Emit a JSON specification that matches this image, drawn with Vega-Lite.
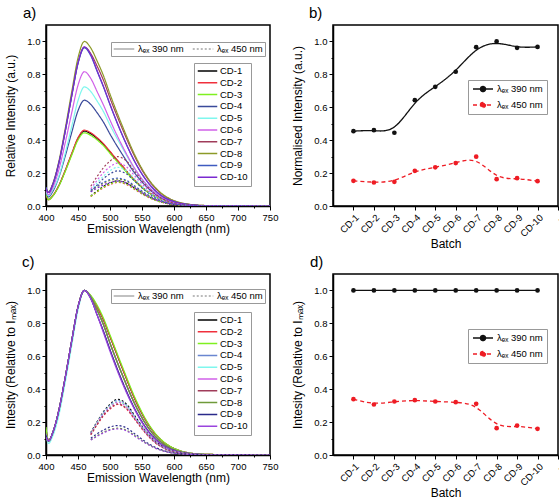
{
"$schema": "https://vega.github.io/schema/vega-lite/v6.json",
"padding": {"left": 4, "top": 5, "right": 0, "bottom": 0},
"spacing": 4,
"config": {
  "font": "Liberation Sans",
  "background": "white",
  "view": {"stroke": "black", "strokeWidth": 1.5},
  "axis": {"grid": false, "domainColor": "black", "domainWidth": 1.5, "tickColor": "black", "tickWidth": 1, "tickSize": 4, "labelFont": "Liberation Sans", "labelFontSize": 9.5, "labelColor": "black", "labelPadding": 2, "labelFlush": false, "labelOverlap": false, "titleFont": "Liberation Sans", "titleFontSize": 12, "titleFontWeight": "normal", "titleColor": "black"},
  "axisY": {"titlePadding": 9},
  "axisX": {"titlePadding": 2},
  "legend": {"labelFont": "Liberation Sans", "labelFontSize": 9.5, "labelColor": "black", "strokeColor": "#999", "fillColor": "white", "orient": "none"},
  "title": {"font": "Liberation Sans", "fontSize": 15, "fontWeight": "normal", "anchor": "start", "frame": "group", "offset": 4, "color": "black"}
},
"resolve": {"scale": {"color": "independent", "strokeDash": "independent"}, "legend": {"color": "independent", "strokeDash": "independent"}},
"datasets": {
"a390": [
{"s":"CD-1","x":400,"y":0.073},{"s":"CD-1","x":404,"y":0.039},{"s":"CD-1","x":410,"y":0.059},{"s":"CD-1","x":420,"y":0.123},{"s":"CD-1","x":430,"y":0.214},{"s":"CD-1","x":440,"y":0.314},{"s":"CD-1","x":450,"y":0.41},{"s":"CD-1","x":460,"y":0.455},{"s":"CD-1","x":470,"y":0.439},{"s":"CD-1","x":480,"y":0.41},{"s":"CD-1","x":490,"y":0.373},{"s":"CD-1","x":500,"y":0.328},{"s":"CD-1","x":520,"y":0.237},{"s":"CD-1","x":540,"y":0.15},{"s":"CD-1","x":560,"y":0.084},{"s":"CD-1","x":580,"y":0.041},{"s":"CD-1","x":600,"y":0.018},{"s":"CD-1","x":625,"y":0.005},{"s":"CD-1","x":650,"y":0.002},{"s":"CD-1","x":750,"y":0},
{"s":"CD-2","x":400,"y":0.069},{"s":"CD-2","x":404,"y":0.039},{"s":"CD-2","x":410,"y":0.06},{"s":"CD-2","x":420,"y":0.124},{"s":"CD-2","x":430,"y":0.217},{"s":"CD-2","x":440,"y":0.318},{"s":"CD-2","x":450,"y":0.415},{"s":"CD-2","x":460,"y":0.461},{"s":"CD-2","x":470,"y":0.445},{"s":"CD-2","x":480,"y":0.415},{"s":"CD-2","x":490,"y":0.378},{"s":"CD-2","x":500,"y":0.332},{"s":"CD-2","x":520,"y":0.24},{"s":"CD-2","x":540,"y":0.152},{"s":"CD-2","x":560,"y":0.085},{"s":"CD-2","x":580,"y":0.041},{"s":"CD-2","x":600,"y":0.018},{"s":"CD-2","x":625,"y":0.006},{"s":"CD-2","x":650,"y":0.002},{"s":"CD-2","x":750,"y":0},
{"s":"CD-3","x":400,"y":0.076},{"s":"CD-3","x":404,"y":0.038},{"s":"CD-3","x":410,"y":0.058},{"s":"CD-3","x":420,"y":0.12},{"s":"CD-3","x":430,"y":0.209},{"s":"CD-3","x":440,"y":0.307},{"s":"CD-3","x":450,"y":0.401},{"s":"CD-3","x":460,"y":0.445},{"s":"CD-3","x":470,"y":0.429},{"s":"CD-3","x":480,"y":0.401},{"s":"CD-3","x":490,"y":0.365},{"s":"CD-3","x":500,"y":0.32},{"s":"CD-3","x":520,"y":0.231},{"s":"CD-3","x":540,"y":0.147},{"s":"CD-3","x":560,"y":0.082},{"s":"CD-3","x":580,"y":0.04},{"s":"CD-3","x":600,"y":0.018},{"s":"CD-3","x":625,"y":0.005},{"s":"CD-3","x":650,"y":0.002},{"s":"CD-3","x":750,"y":0},
{"s":"CD-4","x":400,"y":0.084},{"s":"CD-4","x":404,"y":0.055},{"s":"CD-4","x":410,"y":0.084},{"s":"CD-4","x":420,"y":0.174},{"s":"CD-4","x":430,"y":0.302},{"s":"CD-4","x":440,"y":0.444},{"s":"CD-4","x":450,"y":0.579},{"s":"CD-4","x":460,"y":0.643},{"s":"CD-4","x":470,"y":0.617},{"s":"CD-4","x":480,"y":0.566},{"s":"CD-4","x":490,"y":0.508},{"s":"CD-4","x":500,"y":0.437},{"s":"CD-4","x":520,"y":0.309},{"s":"CD-4","x":540,"y":0.193},{"s":"CD-4","x":560,"y":0.106},{"s":"CD-4","x":580,"y":0.05},{"s":"CD-4","x":600,"y":0.021},{"s":"CD-4","x":625,"y":0.006},{"s":"CD-4","x":650,"y":0.002},{"s":"CD-4","x":750,"y":0},
{"s":"CD-5","x":400,"y":0.087},{"s":"CD-5","x":404,"y":0.062},{"s":"CD-5","x":410,"y":0.094},{"s":"CD-5","x":420,"y":0.18},{"s":"CD-5","x":430,"y":0.32},{"s":"CD-5","x":440,"y":0.48},{"s":"CD-5","x":450,"y":0.64},{"s":"CD-5","x":460,"y":0.724},{"s":"CD-5","x":470,"y":0.695},{"s":"CD-5","x":480,"y":0.637},{"s":"CD-5","x":490,"y":0.572},{"s":"CD-5","x":500,"y":0.492},{"s":"CD-5","x":520,"y":0.348},{"s":"CD-5","x":540,"y":0.217},{"s":"CD-5","x":560,"y":0.119},{"s":"CD-5","x":580,"y":0.056},{"s":"CD-5","x":600,"y":0.024},{"s":"CD-5","x":625,"y":0.007},{"s":"CD-5","x":650,"y":0.002},{"s":"CD-5","x":750,"y":0},
{"s":"CD-6","x":400,"y":0.098},{"s":"CD-6","x":404,"y":0.069},{"s":"CD-6","x":410,"y":0.106},{"s":"CD-6","x":420,"y":0.22},{"s":"CD-6","x":430,"y":0.384},{"s":"CD-6","x":440,"y":0.563},{"s":"CD-6","x":450,"y":0.734},{"s":"CD-6","x":460,"y":0.816},{"s":"CD-6","x":470,"y":0.775},{"s":"CD-6","x":480,"y":0.694},{"s":"CD-6","x":490,"y":0.612},{"s":"CD-6","x":500,"y":0.522},{"s":"CD-6","x":520,"y":0.359},{"s":"CD-6","x":540,"y":0.22},{"s":"CD-6","x":560,"y":0.118},{"s":"CD-6","x":580,"y":0.054},{"s":"CD-6","x":600,"y":0.023},{"s":"CD-6","x":625,"y":0.007},{"s":"CD-6","x":650,"y":0.002},{"s":"CD-6","x":750,"y":0},
{"s":"CD-7","x":400,"y":0.106},{"s":"CD-7","x":404,"y":0.082},{"s":"CD-7","x":410,"y":0.125},{"s":"CD-7","x":420,"y":0.261},{"s":"CD-7","x":430,"y":0.454},{"s":"CD-7","x":440,"y":0.666},{"s":"CD-7","x":450,"y":0.869},{"s":"CD-7","x":460,"y":0.965},{"s":"CD-7","x":470,"y":0.926},{"s":"CD-7","x":480,"y":0.849},{"s":"CD-7","x":490,"y":0.762},{"s":"CD-7","x":500,"y":0.656},{"s":"CD-7","x":520,"y":0.463},{"s":"CD-7","x":540,"y":0.29},{"s":"CD-7","x":560,"y":0.159},{"s":"CD-7","x":580,"y":0.075},{"s":"CD-7","x":600,"y":0.032},{"s":"CD-7","x":625,"y":0.01},{"s":"CD-7","x":650,"y":0.003},{"s":"CD-7","x":750,"y":0},
{"s":"CD-8","x":400,"y":0.11},{"s":"CD-8","x":404,"y":0.085},{"s":"CD-8","x":410,"y":0.13},{"s":"CD-8","x":420,"y":0.27},{"s":"CD-8","x":430,"y":0.47},{"s":"CD-8","x":440,"y":0.69},{"s":"CD-8","x":450,"y":0.9},{"s":"CD-8","x":460,"y":1.0},{"s":"CD-8","x":470,"y":0.96},{"s":"CD-8","x":480,"y":0.88},{"s":"CD-8","x":490,"y":0.79},{"s":"CD-8","x":500,"y":0.68},{"s":"CD-8","x":520,"y":0.48},{"s":"CD-8","x":540,"y":0.3},{"s":"CD-8","x":560,"y":0.165},{"s":"CD-8","x":580,"y":0.078},{"s":"CD-8","x":600,"y":0.033},{"s":"CD-8","x":625,"y":0.01},{"s":"CD-8","x":650,"y":0.003},{"s":"CD-8","x":750,"y":0},
{"s":"CD-9","x":400,"y":0.115},{"s":"CD-9","x":404,"y":0.082},{"s":"CD-9","x":410,"y":0.125},{"s":"CD-9","x":420,"y":0.259},{"s":"CD-9","x":430,"y":0.452},{"s":"CD-9","x":440,"y":0.663},{"s":"CD-9","x":450,"y":0.865},{"s":"CD-9","x":460,"y":0.961},{"s":"CD-9","x":470,"y":0.913},{"s":"CD-9","x":480,"y":0.817},{"s":"CD-9","x":490,"y":0.721},{"s":"CD-9","x":500,"y":0.615},{"s":"CD-9","x":520,"y":0.423},{"s":"CD-9","x":540,"y":0.259},{"s":"CD-9","x":560,"y":0.139},{"s":"CD-9","x":580,"y":0.063},{"s":"CD-9","x":600,"y":0.027},{"s":"CD-9","x":625,"y":0.008},{"s":"CD-9","x":650,"y":0.002},{"s":"CD-9","x":750,"y":0},
{"s":"CD-10","x":400,"y":0.106},{"s":"CD-10","x":404,"y":0.082},{"s":"CD-10","x":410,"y":0.126},{"s":"CD-10","x":420,"y":0.261},{"s":"CD-10","x":430,"y":0.454},{"s":"CD-10","x":440,"y":0.667},{"s":"CD-10","x":450,"y":0.87},{"s":"CD-10","x":460,"y":0.967},{"s":"CD-10","x":470,"y":0.919},{"s":"CD-10","x":480,"y":0.822},{"s":"CD-10","x":490,"y":0.725},{"s":"CD-10","x":500,"y":0.619},{"s":"CD-10","x":520,"y":0.425},{"s":"CD-10","x":540,"y":0.261},{"s":"CD-10","x":560,"y":0.14},{"s":"CD-10","x":580,"y":0.064},{"s":"CD-10","x":600,"y":0.027},{"s":"CD-10","x":625,"y":0.008},{"s":"CD-10","x":650,"y":0.002},{"s":"CD-10","x":750,"y":0}
],
"a450": [
{"s":"CD-1","x":470,"y":0.061},{"s":"CD-1","x":480,"y":0.092},{"s":"CD-1","x":490,"y":0.119},{"s":"CD-1","x":500,"y":0.139},{"s":"CD-1","x":512,"y":0.153},{"s":"CD-1","x":525,"y":0.141},{"s":"CD-1","x":540,"y":0.104},{"s":"CD-1","x":555,"y":0.067},{"s":"CD-1","x":570,"y":0.038},{"s":"CD-1","x":590,"y":0.015},{"s":"CD-1","x":610,"y":0.006},{"s":"CD-1","x":630,"y":0.002},{"s":"CD-1","x":650,"y":0.001},{"s":"CD-1","x":750,"y":0},
{"s":"CD-2","x":470,"y":0.057},{"s":"CD-2","x":480,"y":0.086},{"s":"CD-2","x":490,"y":0.112},{"s":"CD-2","x":500,"y":0.13},{"s":"CD-2","x":512,"y":0.143},{"s":"CD-2","x":525,"y":0.132},{"s":"CD-2","x":540,"y":0.097},{"s":"CD-2","x":555,"y":0.063},{"s":"CD-2","x":570,"y":0.036},{"s":"CD-2","x":590,"y":0.014},{"s":"CD-2","x":610,"y":0.006},{"s":"CD-2","x":630,"y":0.002},{"s":"CD-2","x":650,"y":0.001},{"s":"CD-2","x":750,"y":0},
{"s":"CD-3","x":470,"y":0.059},{"s":"CD-3","x":480,"y":0.088},{"s":"CD-3","x":490,"y":0.115},{"s":"CD-3","x":500,"y":0.134},{"s":"CD-3","x":512,"y":0.147},{"s":"CD-3","x":525,"y":0.135},{"s":"CD-3","x":540,"y":0.1},{"s":"CD-3","x":555,"y":0.065},{"s":"CD-3","x":570,"y":0.037},{"s":"CD-3","x":590,"y":0.015},{"s":"CD-3","x":610,"y":0.006},{"s":"CD-3","x":630,"y":0.002},{"s":"CD-3","x":650,"y":0.001},{"s":"CD-3","x":750,"y":0},
{"s":"CD-4","x":470,"y":0.086},{"s":"CD-4","x":480,"y":0.128},{"s":"CD-4","x":490,"y":0.167},{"s":"CD-4","x":500,"y":0.195},{"s":"CD-4","x":512,"y":0.214},{"s":"CD-4","x":525,"y":0.197},{"s":"CD-4","x":540,"y":0.146},{"s":"CD-4","x":555,"y":0.094},{"s":"CD-4","x":570,"y":0.054},{"s":"CD-4","x":590,"y":0.021},{"s":"CD-4","x":610,"y":0.009},{"s":"CD-4","x":630,"y":0.003},{"s":"CD-4","x":650,"y":0.001},{"s":"CD-4","x":750,"y":0},
{"s":"CD-5","x":470,"y":0.094},{"s":"CD-5","x":480,"y":0.141},{"s":"CD-5","x":490,"y":0.183},{"s":"CD-5","x":500,"y":0.214},{"s":"CD-5","x":512,"y":0.235},{"s":"CD-5","x":525,"y":0.216},{"s":"CD-5","x":540,"y":0.16},{"s":"CD-5","x":555,"y":0.103},{"s":"CD-5","x":570,"y":0.059},{"s":"CD-5","x":590,"y":0.024},{"s":"CD-5","x":610,"y":0.009},{"s":"CD-5","x":630,"y":0.003},{"s":"CD-5","x":650,"y":0.001},{"s":"CD-5","x":750,"y":0},
{"s":"CD-6","x":470,"y":0.104},{"s":"CD-6","x":480,"y":0.157},{"s":"CD-6","x":490,"y":0.204},{"s":"CD-6","x":500,"y":0.238},{"s":"CD-6","x":512,"y":0.261},{"s":"CD-6","x":525,"y":0.24},{"s":"CD-6","x":540,"y":0.177},{"s":"CD-6","x":555,"y":0.115},{"s":"CD-6","x":570,"y":0.065},{"s":"CD-6","x":590,"y":0.026},{"s":"CD-6","x":610,"y":0.01},{"s":"CD-6","x":630,"y":0.003},{"s":"CD-6","x":650,"y":0.001},{"s":"CD-6","x":750,"y":0},
{"s":"CD-7","x":470,"y":0.12},{"s":"CD-7","x":480,"y":0.18},{"s":"CD-7","x":490,"y":0.234},{"s":"CD-7","x":500,"y":0.273},{"s":"CD-7","x":512,"y":0.3},{"s":"CD-7","x":525,"y":0.276},{"s":"CD-7","x":540,"y":0.204},{"s":"CD-7","x":555,"y":0.132},{"s":"CD-7","x":570,"y":0.075},{"s":"CD-7","x":590,"y":0.03},{"s":"CD-7","x":610,"y":0.012},{"s":"CD-7","x":630,"y":0.004},{"s":"CD-7","x":650,"y":0.001},{"s":"CD-7","x":750,"y":0},
{"s":"CD-8","x":470,"y":0.093},{"s":"CD-8","x":480,"y":0.117},{"s":"CD-8","x":490,"y":0.139},{"s":"CD-8","x":500,"y":0.155},{"s":"CD-8","x":512,"y":0.163},{"s":"CD-8","x":525,"y":0.152},{"s":"CD-8","x":540,"y":0.114},{"s":"CD-8","x":555,"y":0.075},{"s":"CD-8","x":570,"y":0.044},{"s":"CD-8","x":590,"y":0.018},{"s":"CD-8","x":610,"y":0.007},{"s":"CD-8","x":630,"y":0.002},{"s":"CD-8","x":650,"y":0.001},{"s":"CD-8","x":750,"y":0},
{"s":"CD-9","x":470,"y":0.096},{"s":"CD-9","x":480,"y":0.122},{"s":"CD-9","x":490,"y":0.144},{"s":"CD-9","x":500,"y":0.161},{"s":"CD-9","x":512,"y":0.169},{"s":"CD-9","x":525,"y":0.157},{"s":"CD-9","x":540,"y":0.118},{"s":"CD-9","x":555,"y":0.078},{"s":"CD-9","x":570,"y":0.046},{"s":"CD-9","x":590,"y":0.019},{"s":"CD-9","x":610,"y":0.008},{"s":"CD-9","x":630,"y":0.003},{"s":"CD-9","x":650,"y":0.001},{"s":"CD-9","x":750,"y":0},
{"s":"CD-10","x":470,"y":0.086},{"s":"CD-10","x":480,"y":0.109},{"s":"CD-10","x":490,"y":0.128},{"s":"CD-10","x":500,"y":0.143},{"s":"CD-10","x":512,"y":0.151},{"s":"CD-10","x":525,"y":0.14},{"s":"CD-10","x":540,"y":0.106},{"s":"CD-10","x":555,"y":0.069},{"s":"CD-10","x":570,"y":0.041},{"s":"CD-10","x":590,"y":0.017},{"s":"CD-10","x":610,"y":0.007},{"s":"CD-10","x":630,"y":0.002},{"s":"CD-10","x":650,"y":0.001},{"s":"CD-10","x":750,"y":0}
],
"c390": [
{"s":"CD-1","x":400,"y":0.16},{"s":"CD-1","x":404,"y":0.085},{"s":"CD-1","x":410,"y":0.13},{"s":"CD-1","x":420,"y":0.27},{"s":"CD-1","x":430,"y":0.47},{"s":"CD-1","x":440,"y":0.69},{"s":"CD-1","x":450,"y":0.9},{"s":"CD-1","x":460,"y":1.0},{"s":"CD-1","x":470,"y":0.965},{"s":"CD-1","x":480,"y":0.9},{"s":"CD-1","x":490,"y":0.82},{"s":"CD-1","x":500,"y":0.72},{"s":"CD-1","x":520,"y":0.52},{"s":"CD-1","x":540,"y":0.33},{"s":"CD-1","x":560,"y":0.185},{"s":"CD-1","x":580,"y":0.09},{"s":"CD-1","x":600,"y":0.04},{"s":"CD-1","x":625,"y":0.012},{"s":"CD-1","x":650,"y":0.004},{"s":"CD-1","x":750,"y":0},
{"s":"CD-2","x":400,"y":0.15},{"s":"CD-2","x":404,"y":0.09},{"s":"CD-2","x":410,"y":0.13},{"s":"CD-2","x":420,"y":0.27},{"s":"CD-2","x":430,"y":0.47},{"s":"CD-2","x":440,"y":0.69},{"s":"CD-2","x":450,"y":0.9},{"s":"CD-2","x":460,"y":1.0},{"s":"CD-2","x":470,"y":0.965},{"s":"CD-2","x":480,"y":0.9},{"s":"CD-2","x":490,"y":0.82},{"s":"CD-2","x":500,"y":0.72},{"s":"CD-2","x":520,"y":0.52},{"s":"CD-2","x":540,"y":0.33},{"s":"CD-2","x":560,"y":0.185},{"s":"CD-2","x":580,"y":0.09},{"s":"CD-2","x":600,"y":0.04},{"s":"CD-2","x":625,"y":0.012},{"s":"CD-2","x":650,"y":0.004},{"s":"CD-2","x":750,"y":0},
{"s":"CD-3","x":400,"y":0.17},{"s":"CD-3","x":404,"y":0.085},{"s":"CD-3","x":410,"y":0.13},{"s":"CD-3","x":420,"y":0.27},{"s":"CD-3","x":430,"y":0.47},{"s":"CD-3","x":440,"y":0.69},{"s":"CD-3","x":450,"y":0.9},{"s":"CD-3","x":460,"y":1.0},{"s":"CD-3","x":470,"y":0.97},{"s":"CD-3","x":480,"y":0.91},{"s":"CD-3","x":490,"y":0.83},{"s":"CD-3","x":500,"y":0.73},{"s":"CD-3","x":520,"y":0.53},{"s":"CD-3","x":540,"y":0.34},{"s":"CD-3","x":560,"y":0.19},{"s":"CD-3","x":580,"y":0.093},{"s":"CD-3","x":600,"y":0.041},{"s":"CD-3","x":625,"y":0.012},{"s":"CD-3","x":650,"y":0.004},{"s":"CD-3","x":750,"y":0},
{"s":"CD-4","x":400,"y":0.13},{"s":"CD-4","x":404,"y":0.085},{"s":"CD-4","x":410,"y":0.13},{"s":"CD-4","x":420,"y":0.27},{"s":"CD-4","x":430,"y":0.47},{"s":"CD-4","x":440,"y":0.69},{"s":"CD-4","x":450,"y":0.9},{"s":"CD-4","x":460,"y":1.0},{"s":"CD-4","x":470,"y":0.96},{"s":"CD-4","x":480,"y":0.88},{"s":"CD-4","x":490,"y":0.79},{"s":"CD-4","x":500,"y":0.68},{"s":"CD-4","x":520,"y":0.48},{"s":"CD-4","x":540,"y":0.3},{"s":"CD-4","x":560,"y":0.165},{"s":"CD-4","x":580,"y":0.078},{"s":"CD-4","x":600,"y":0.033},{"s":"CD-4","x":625,"y":0.01},{"s":"CD-4","x":650,"y":0.003},{"s":"CD-4","x":750,"y":0},
{"s":"CD-5","x":400,"y":0.12},{"s":"CD-5","x":404,"y":0.07},{"s":"CD-5","x":410,"y":0.11},{"s":"CD-5","x":420,"y":0.24},{"s":"CD-5","x":430,"y":0.44},{"s":"CD-5","x":440,"y":0.66},{"s":"CD-5","x":450,"y":0.88},{"s":"CD-5","x":460,"y":1.0},{"s":"CD-5","x":470,"y":0.96},{"s":"CD-5","x":480,"y":0.88},{"s":"CD-5","x":490,"y":0.79},{"s":"CD-5","x":500,"y":0.68},{"s":"CD-5","x":520,"y":0.48},{"s":"CD-5","x":540,"y":0.3},{"s":"CD-5","x":560,"y":0.165},{"s":"CD-5","x":580,"y":0.078},{"s":"CD-5","x":600,"y":0.033},{"s":"CD-5","x":625,"y":0.01},{"s":"CD-5","x":650,"y":0.003},{"s":"CD-5","x":750,"y":0},
{"s":"CD-6","x":400,"y":0.12},{"s":"CD-6","x":404,"y":0.085},{"s":"CD-6","x":410,"y":0.13},{"s":"CD-6","x":420,"y":0.27},{"s":"CD-6","x":430,"y":0.47},{"s":"CD-6","x":440,"y":0.69},{"s":"CD-6","x":450,"y":0.9},{"s":"CD-6","x":460,"y":1.0},{"s":"CD-6","x":470,"y":0.95},{"s":"CD-6","x":480,"y":0.85},{"s":"CD-6","x":490,"y":0.75},{"s":"CD-6","x":500,"y":0.64},{"s":"CD-6","x":520,"y":0.44},{"s":"CD-6","x":540,"y":0.27},{"s":"CD-6","x":560,"y":0.145},{"s":"CD-6","x":580,"y":0.066},{"s":"CD-6","x":600,"y":0.028},{"s":"CD-6","x":625,"y":0.008},{"s":"CD-6","x":650,"y":0.002},{"s":"CD-6","x":750,"y":0},
{"s":"CD-7","x":400,"y":0.11},{"s":"CD-7","x":404,"y":0.085},{"s":"CD-7","x":410,"y":0.13},{"s":"CD-7","x":420,"y":0.27},{"s":"CD-7","x":430,"y":0.47},{"s":"CD-7","x":440,"y":0.69},{"s":"CD-7","x":450,"y":0.9},{"s":"CD-7","x":460,"y":1.0},{"s":"CD-7","x":470,"y":0.96},{"s":"CD-7","x":480,"y":0.88},{"s":"CD-7","x":490,"y":0.79},{"s":"CD-7","x":500,"y":0.68},{"s":"CD-7","x":520,"y":0.48},{"s":"CD-7","x":540,"y":0.3},{"s":"CD-7","x":560,"y":0.165},{"s":"CD-7","x":580,"y":0.078},{"s":"CD-7","x":600,"y":0.033},{"s":"CD-7","x":625,"y":0.01},{"s":"CD-7","x":650,"y":0.003},{"s":"CD-7","x":750,"y":0},
{"s":"CD-8","x":400,"y":0.11},{"s":"CD-8","x":404,"y":0.085},{"s":"CD-8","x":410,"y":0.13},{"s":"CD-8","x":420,"y":0.27},{"s":"CD-8","x":430,"y":0.47},{"s":"CD-8","x":440,"y":0.69},{"s":"CD-8","x":450,"y":0.9},{"s":"CD-8","x":460,"y":1.0},{"s":"CD-8","x":470,"y":0.96},{"s":"CD-8","x":480,"y":0.88},{"s":"CD-8","x":490,"y":0.79},{"s":"CD-8","x":500,"y":0.68},{"s":"CD-8","x":520,"y":0.48},{"s":"CD-8","x":540,"y":0.3},{"s":"CD-8","x":560,"y":0.165},{"s":"CD-8","x":580,"y":0.078},{"s":"CD-8","x":600,"y":0.033},{"s":"CD-8","x":625,"y":0.01},{"s":"CD-8","x":650,"y":0.003},{"s":"CD-8","x":750,"y":0},
{"s":"CD-9","x":400,"y":0.12},{"s":"CD-9","x":404,"y":0.085},{"s":"CD-9","x":410,"y":0.13},{"s":"CD-9","x":420,"y":0.27},{"s":"CD-9","x":430,"y":0.47},{"s":"CD-9","x":440,"y":0.69},{"s":"CD-9","x":450,"y":0.9},{"s":"CD-9","x":460,"y":1.0},{"s":"CD-9","x":470,"y":0.95},{"s":"CD-9","x":480,"y":0.85},{"s":"CD-9","x":490,"y":0.75},{"s":"CD-9","x":500,"y":0.64},{"s":"CD-9","x":520,"y":0.44},{"s":"CD-9","x":540,"y":0.27},{"s":"CD-9","x":560,"y":0.145},{"s":"CD-9","x":580,"y":0.066},{"s":"CD-9","x":600,"y":0.028},{"s":"CD-9","x":625,"y":0.008},{"s":"CD-9","x":650,"y":0.002},{"s":"CD-9","x":750,"y":0},
{"s":"CD-10","x":400,"y":0.11},{"s":"CD-10","x":404,"y":0.085},{"s":"CD-10","x":410,"y":0.13},{"s":"CD-10","x":420,"y":0.27},{"s":"CD-10","x":430,"y":0.47},{"s":"CD-10","x":440,"y":0.69},{"s":"CD-10","x":450,"y":0.9},{"s":"CD-10","x":460,"y":1.0},{"s":"CD-10","x":470,"y":0.95},{"s":"CD-10","x":480,"y":0.85},{"s":"CD-10","x":490,"y":0.74},{"s":"CD-10","x":500,"y":0.63},{"s":"CD-10","x":520,"y":0.43},{"s":"CD-10","x":540,"y":0.265},{"s":"CD-10","x":560,"y":0.14},{"s":"CD-10","x":580,"y":0.064},{"s":"CD-10","x":600,"y":0.027},{"s":"CD-10","x":625,"y":0.008},{"s":"CD-10","x":650,"y":0.002},{"s":"CD-10","x":750,"y":0}
],
"c450": [
{"s":"CD-1","x":470,"y":0.136},{"s":"CD-1","x":480,"y":0.203},{"s":"CD-1","x":490,"y":0.264},{"s":"CD-1","x":500,"y":0.308},{"s":"CD-1","x":512,"y":0.339},{"s":"CD-1","x":525,"y":0.312},{"s":"CD-1","x":540,"y":0.231},{"s":"CD-1","x":555,"y":0.149},{"s":"CD-1","x":570,"y":0.085},{"s":"CD-1","x":590,"y":0.034},{"s":"CD-1","x":610,"y":0.014},{"s":"CD-1","x":630,"y":0.004},{"s":"CD-1","x":650,"y":0.001},{"s":"CD-1","x":750,"y":0},
{"s":"CD-2","x":470,"y":0.123},{"s":"CD-2","x":480,"y":0.184},{"s":"CD-2","x":490,"y":0.239},{"s":"CD-2","x":500,"y":0.279},{"s":"CD-2","x":512,"y":0.307},{"s":"CD-2","x":525,"y":0.282},{"s":"CD-2","x":540,"y":0.209},{"s":"CD-2","x":555,"y":0.135},{"s":"CD-2","x":570,"y":0.077},{"s":"CD-2","x":590,"y":0.031},{"s":"CD-2","x":610,"y":0.012},{"s":"CD-2","x":630,"y":0.004},{"s":"CD-2","x":650,"y":0.001},{"s":"CD-2","x":750,"y":0},
{"s":"CD-3","x":470,"y":0.13},{"s":"CD-3","x":480,"y":0.195},{"s":"CD-3","x":490,"y":0.254},{"s":"CD-3","x":500,"y":0.296},{"s":"CD-3","x":512,"y":0.325},{"s":"CD-3","x":525,"y":0.299},{"s":"CD-3","x":540,"y":0.221},{"s":"CD-3","x":555,"y":0.143},{"s":"CD-3","x":570,"y":0.081},{"s":"CD-3","x":590,"y":0.033},{"s":"CD-3","x":610,"y":0.013},{"s":"CD-3","x":630,"y":0.004},{"s":"CD-3","x":650,"y":0.001},{"s":"CD-3","x":750,"y":0},
{"s":"CD-4","x":470,"y":0.133},{"s":"CD-4","x":480,"y":0.2},{"s":"CD-4","x":490,"y":0.26},{"s":"CD-4","x":500,"y":0.303},{"s":"CD-4","x":512,"y":0.333},{"s":"CD-4","x":525,"y":0.306},{"s":"CD-4","x":540,"y":0.226},{"s":"CD-4","x":555,"y":0.147},{"s":"CD-4","x":570,"y":0.083},{"s":"CD-4","x":590,"y":0.033},{"s":"CD-4","x":610,"y":0.013},{"s":"CD-4","x":630,"y":0.004},{"s":"CD-4","x":650,"y":0.001},{"s":"CD-4","x":750,"y":0},
{"s":"CD-5","x":470,"y":0.13},{"s":"CD-5","x":480,"y":0.195},{"s":"CD-5","x":490,"y":0.254},{"s":"CD-5","x":500,"y":0.296},{"s":"CD-5","x":512,"y":0.325},{"s":"CD-5","x":525,"y":0.299},{"s":"CD-5","x":540,"y":0.221},{"s":"CD-5","x":555,"y":0.143},{"s":"CD-5","x":570,"y":0.081},{"s":"CD-5","x":590,"y":0.033},{"s":"CD-5","x":610,"y":0.013},{"s":"CD-5","x":630,"y":0.004},{"s":"CD-5","x":650,"y":0.001},{"s":"CD-5","x":750,"y":0},
{"s":"CD-6","x":470,"y":0.128},{"s":"CD-6","x":480,"y":0.193},{"s":"CD-6","x":490,"y":0.25},{"s":"CD-6","x":500,"y":0.292},{"s":"CD-6","x":512,"y":0.321},{"s":"CD-6","x":525,"y":0.295},{"s":"CD-6","x":540,"y":0.218},{"s":"CD-6","x":555,"y":0.141},{"s":"CD-6","x":570,"y":0.08},{"s":"CD-6","x":590,"y":0.032},{"s":"CD-6","x":610,"y":0.013},{"s":"CD-6","x":630,"y":0.004},{"s":"CD-6","x":650,"y":0.001},{"s":"CD-6","x":750,"y":0},
{"s":"CD-7","x":470,"y":0.124},{"s":"CD-7","x":480,"y":0.187},{"s":"CD-7","x":490,"y":0.243},{"s":"CD-7","x":500,"y":0.283},{"s":"CD-7","x":512,"y":0.311},{"s":"CD-7","x":525,"y":0.286},{"s":"CD-7","x":540,"y":0.211},{"s":"CD-7","x":555,"y":0.137},{"s":"CD-7","x":570,"y":0.078},{"s":"CD-7","x":590,"y":0.031},{"s":"CD-7","x":610,"y":0.012},{"s":"CD-7","x":630,"y":0.004},{"s":"CD-7","x":650,"y":0.001},{"s":"CD-7","x":750,"y":0},
{"s":"CD-8","x":470,"y":0.093},{"s":"CD-8","x":480,"y":0.117},{"s":"CD-8","x":490,"y":0.139},{"s":"CD-8","x":500,"y":0.155},{"s":"CD-8","x":512,"y":0.163},{"s":"CD-8","x":525,"y":0.152},{"s":"CD-8","x":540,"y":0.114},{"s":"CD-8","x":555,"y":0.075},{"s":"CD-8","x":570,"y":0.044},{"s":"CD-8","x":590,"y":0.018},{"s":"CD-8","x":610,"y":0.007},{"s":"CD-8","x":630,"y":0.002},{"s":"CD-8","x":650,"y":0.001},{"s":"CD-8","x":750,"y":0},
{"s":"CD-9","x":470,"y":0.102},{"s":"CD-9","x":480,"y":0.129},{"s":"CD-9","x":490,"y":0.152},{"s":"CD-9","x":500,"y":0.17},{"s":"CD-9","x":512,"y":0.179},{"s":"CD-9","x":525,"y":0.166},{"s":"CD-9","x":540,"y":0.125},{"s":"CD-9","x":555,"y":0.082},{"s":"CD-9","x":570,"y":0.048},{"s":"CD-9","x":590,"y":0.02},{"s":"CD-9","x":610,"y":0.008},{"s":"CD-9","x":630,"y":0.003},{"s":"CD-9","x":650,"y":0.001},{"s":"CD-9","x":750,"y":0},
{"s":"CD-10","x":470,"y":0.091},{"s":"CD-10","x":480,"y":0.114},{"s":"CD-10","x":490,"y":0.135},{"s":"CD-10","x":500,"y":0.151},{"s":"CD-10","x":512,"y":0.159},{"s":"CD-10","x":525,"y":0.148},{"s":"CD-10","x":540,"y":0.111},{"s":"CD-10","x":555,"y":0.073},{"s":"CD-10","x":570,"y":0.043},{"s":"CD-10","x":590,"y":0.017},{"s":"CD-10","x":610,"y":0.007},{"s":"CD-10","x":630,"y":0.002},{"s":"CD-10","x":650,"y":0.001},{"s":"CD-10","x":750,"y":0}
],
"b": [
{"s":"CD-1","e":"λₑₓ 390 nm","y":0.455},{"s":"CD-2","e":"λₑₓ 390 nm","y":0.461},{"s":"CD-3","e":"λₑₓ 390 nm","y":0.445},{"s":"CD-4","e":"λₑₓ 390 nm","y":0.643},{"s":"CD-5","e":"λₑₓ 390 nm","y":0.724},{"s":"CD-6","e":"λₑₓ 390 nm","y":0.816},{"s":"CD-7","e":"λₑₓ 390 nm","y":0.965},{"s":"CD-8","e":"λₑₓ 390 nm","y":1.0},{"s":"CD-9","e":"λₑₓ 390 nm","y":0.961},{"s":"CD-10","e":"λₑₓ 390 nm","y":0.967},
{"s":"CD-1","e":"λₑₓ 450 nm","y":0.153},{"s":"CD-2","e":"λₑₓ 450 nm","y":0.143},{"s":"CD-3","e":"λₑₓ 450 nm","y":0.147},{"s":"CD-4","e":"λₑₓ 450 nm","y":0.214},{"s":"CD-5","e":"λₑₓ 450 nm","y":0.235},{"s":"CD-6","e":"λₑₓ 450 nm","y":0.261},{"s":"CD-7","e":"λₑₓ 450 nm","y":0.3},{"s":"CD-8","e":"λₑₓ 450 nm","y":0.163},{"s":"CD-9","e":"λₑₓ 450 nm","y":0.169},{"s":"CD-10","e":"λₑₓ 450 nm","y":0.151}
],
"d": [
{"s":"CD-1","e":"λₑₓ 390 nm","y":1.0},{"s":"CD-2","e":"λₑₓ 390 nm","y":1.0},{"s":"CD-3","e":"λₑₓ 390 nm","y":1.0},{"s":"CD-4","e":"λₑₓ 390 nm","y":1.0},{"s":"CD-5","e":"λₑₓ 390 nm","y":1.0},{"s":"CD-6","e":"λₑₓ 390 nm","y":1.0},{"s":"CD-7","e":"λₑₓ 390 nm","y":1.0},{"s":"CD-8","e":"λₑₓ 390 nm","y":1.0},{"s":"CD-9","e":"λₑₓ 390 nm","y":1.0},{"s":"CD-10","e":"λₑₓ 390 nm","y":1.0},
{"s":"CD-1","e":"λₑₓ 450 nm","y":0.339},{"s":"CD-2","e":"λₑₓ 450 nm","y":0.307},{"s":"CD-3","e":"λₑₓ 450 nm","y":0.325},{"s":"CD-4","e":"λₑₓ 450 nm","y":0.333},{"s":"CD-5","e":"λₑₓ 450 nm","y":0.325},{"s":"CD-6","e":"λₑₓ 450 nm","y":0.321},{"s":"CD-7","e":"λₑₓ 450 nm","y":0.311},{"s":"CD-8","e":"λₑₓ 450 nm","y":0.163},{"s":"CD-9","e":"λₑₓ 450 nm","y":0.179},{"s":"CD-10","e":"λₑₓ 450 nm","y":0.159}
]
},
"vconcat": [
{
"spacing": 12,
"resolve": {"scale": {"color": "independent", "strokeDash": "independent"}, "legend": {"color": "independent", "strokeDash": "independent"}},
"hconcat": [
{
"width": 224, "height": 181,
"title": {"text": "a)", "dx": -23},
"layer": [
{"data": {"name": "a390"}, "mark": {"type": "line", "interpolate": "monotone", "strokeWidth": 1.2, "clip": true},
 "encoding": {
  "x": {"field": "x", "type": "quantitative", "scale": {"domain": [400, 750], "nice": false}, "title": "Emission Wavelength (nm)", "axis": {"values": [400,425,450,475,500,525,550,575,600,625,650,675,700,725,750], "tickCount": 100, "format": "d", "labelOverlap": false, "labelFlush": false, "labelExpr": "datum.value % 50 == 0 ? datum.label : ''", "tickSize": {"condition": {"test": "datum.value % 50 == 0", "value": 4}, "value": 2}}},
  "y": {"field": "y", "type": "quantitative", "scale": {"domain": [0, 1.1], "nice": false}, "title": "Relative Intensity (a.u.)", "axis": {"values": [0,0.1,0.2,0.3,0.4,0.5,0.6,0.7,0.8,0.9,1.0], "tickCount": 100, "format": ".1f", "labelOverlap": false, "labelFlush": false, "labelExpr": "round(datum.value*10) % 2 == 0 ? datum.label : ''", "tickSize": {"condition": {"test": "round(datum.value*10) % 2 == 0", "value": 4}, "value": 2}}},
  "color": {"field": "s", "type": "nominal", "scale": {"domain": ["CD-1","CD-2","CD-3","CD-4","CD-5","CD-6","CD-7","CD-8","CD-9","CD-10"], "range": ["#000000","#f0303c","#7ff020","#3a4a9a","#7ff7ee","#d060e8","#a03c5a","#8c9a28","#3f5bc0","#7a2ad0"]}, "legend": {"title": null, "orient": "none", "legendX": 148, "legendY": 38, "symbolType": "stroke", "symbolSize": 380, "symbolStrokeWidth": 1.5, "clipHeight": 10, "padding": 3, "rowPadding": 1.8, "labelOffset": 2, "labelLimit": 28}},
  "strokeDash": {"datum": "λₑₓ 390 nm", "type": "nominal", "scale": {"domain": ["λₑₓ 390 nm", "λₑₓ 450 nm"], "range": [[1, 0], [2, 2]]}, "legend": {"title": null, "orient": "none", "direction": "horizontal", "legendX": 65, "legendY": 17, "symbolType": "stroke", "symbolSize": 420, "symbolStrokeColor": "#777", "symbolStrokeWidth": 1, "clipHeight": 10, "padding": 2, "columnPadding": 8, "labelOffset": 3, "labelLimit": 50}}
 }},
{"data": {"name": "a450"}, "mark": {"type": "line", "interpolate": "monotone", "strokeWidth": 1.2, "clip": true},
 "encoding": {
  "x": {"field": "x", "type": "quantitative"},
  "y": {"field": "y", "type": "quantitative"},
  "color": {"field": "s", "type": "nominal"},
  "strokeDash": {"datum": "λₑₓ 450 nm", "type": "nominal"}
 }}
]
},
{
"width": 225, "height": 181,
"title": {"text": "b)", "dx": -24},
"data": {"name": "b"},
"encoding": {
  "x": {"field": "s", "type": "nominal", "sort": null, "scale": {"type": "point", "domain": ["CD-1","CD-2","CD-3","CD-4","CD-5","CD-6","CD-7","CD-8","CD-9","CD-10","–"], "paddingOuter": 0.5, "align": 1}, "title": "Batch", "axis": {"labelAngle": -45, "tickSize": 4, "labelColor": "black", "labelOverlap": false, "titlePadding": 0}},
  "y": {"field": "y", "type": "quantitative", "scale": {"domain": [0, 1.1], "nice": false}, "title": "Normalised Intensity (a.u.)", "axis": {"values": [0,0.1,0.2,0.3,0.4,0.5,0.6,0.7,0.8,0.9,1.0], "tickCount": 100, "format": ".1f", "labelOverlap": false, "labelFlush": false, "labelExpr": "round(datum.value*10) % 2 == 0 ? datum.label : ''", "tickSize": {"condition": {"test": "round(datum.value*10) % 2 == 0", "value": 4}, "value": 2}}},
  "color": {"field": "e", "type": "nominal", "scale": {"domain": ["λₑₓ 390 nm", "λₑₓ 450 nm"], "range": ["#111111", "#ee1c24"]}, "legend": {"title": null, "orient": "none", "legendX": 135, "legendY": 55, "symbolType": "M-1,0H1M-0.25,0A0.25,0.25,0,1,1,0.25,0A0.25,0.25,0,1,1,-0.25,0Z", "symbolSize": 400, "symbolStrokeWidth": 1.5, "clipHeight": 10, "padding": 4, "rowPadding": 6, "labelOffset": 3}}
},
"layer": [
 {"mark": {"type": "line", "interpolate": "basis", "strokeWidth": 1.3}, "encoding": {"strokeDash": {"field": "e", "type": "nominal", "scale": {"domain": ["λₑₓ 390 nm", "λₑₓ 450 nm"], "range": [[1, 0], [4, 3]]}, "legend": {"title": null, "orient": "none", "legendX": 135, "legendY": 55, "symbolType": "M-1,0H1M-0.25,0A0.25,0.25,0,1,1,0.25,0A0.25,0.25,0,1,1,-0.25,0Z", "symbolSize": 400, "symbolStrokeWidth": 1.5, "clipHeight": 10, "padding": 4, "rowPadding": 6, "labelOffset": 3}}}},
 {"mark": {"type": "point", "filled": true, "size": 22, "opacity": 1}}
]
}
]
},
{
"spacing": 12,
"resolve": {"scale": {"color": "independent", "strokeDash": "independent"}, "legend": {"color": "independent", "strokeDash": "independent"}},
"hconcat": [
{
"width": 224, "height": 181,
"title": {"text": "c)", "dx": -24},
"layer": [
{"data": {"name": "c390"}, "mark": {"type": "line", "interpolate": "monotone", "strokeWidth": 1.2, "clip": true},
 "encoding": {
  "x": {"field": "x", "type": "quantitative", "scale": {"domain": [400, 750], "nice": false}, "title": "Emission Wavelength (nm)", "axis": {"values": [400,425,450,475,500,525,550,575,600,625,650,675,700,725,750], "tickCount": 100, "format": "d", "labelOverlap": false, "labelFlush": false, "labelExpr": "datum.value % 50 == 0 ? datum.label : ''", "tickSize": {"condition": {"test": "datum.value % 50 == 0", "value": 4}, "value": 2}}},
  "y": {"field": "y", "type": "quantitative", "scale": {"domain": [0, 1.1], "nice": false}, "title": "Intesity (Relative to Iₘₐₓ)", "axis": {"values": [0,0.1,0.2,0.3,0.4,0.5,0.6,0.7,0.8,0.9,1.0], "tickCount": 100, "format": ".1f", "labelOverlap": false, "labelFlush": false, "labelExpr": "round(datum.value*10) % 2 == 0 ? datum.label : ''", "tickSize": {"condition": {"test": "round(datum.value*10) % 2 == 0", "value": 4}, "value": 2}}},
  "color": {"field": "s", "type": "nominal", "scale": {"domain": ["CD-1","CD-2","CD-3","CD-4","CD-5","CD-6","CD-7","CD-8","CD-9","CD-10"], "range": ["#000000","#f0303c","#7ff020","#6a86d0","#7ff7ee","#d060e8","#a03c5a","#6f9a3a","#2a2a8a","#9a44dd"]}, "legend": {"title": null, "orient": "none", "legendX": 148, "legendY": 38, "symbolType": "stroke", "symbolSize": 380, "symbolStrokeWidth": 1.5, "clipHeight": 10, "padding": 3, "rowPadding": 1.8, "labelOffset": 2, "labelLimit": 28}},
  "strokeDash": {"datum": "λₑₓ 390 nm", "type": "nominal", "scale": {"domain": ["λₑₓ 390 nm", "λₑₓ 450 nm"], "range": [[1, 0], [2, 2]]}, "legend": {"title": null, "orient": "none", "direction": "horizontal", "legendX": 65, "legendY": 15, "symbolType": "stroke", "symbolSize": 420, "symbolStrokeColor": "#777", "symbolStrokeWidth": 1, "clipHeight": 10, "padding": 2, "columnPadding": 8, "labelOffset": 3, "labelLimit": 50}}
 }},
{"data": {"name": "c450"}, "mark": {"type": "line", "interpolate": "monotone", "strokeWidth": 1.2, "clip": true},
 "encoding": {
  "x": {"field": "x", "type": "quantitative"},
  "y": {"field": "y", "type": "quantitative"},
  "color": {"field": "s", "type": "nominal"},
  "strokeDash": {"datum": "λₑₓ 450 nm", "type": "nominal"}
 }}
]
},
{
"width": 225, "height": 181,
"title": {"text": "d)", "dx": -23},
"data": {"name": "d"},
"encoding": {
  "x": {"field": "s", "type": "nominal", "sort": null, "scale": {"type": "point", "domain": ["CD-1","CD-2","CD-3","CD-4","CD-5","CD-6","CD-7","CD-8","CD-9","CD-10","–"], "paddingOuter": 0.5, "align": 1}, "title": "Batch", "axis": {"labelAngle": -45, "tickSize": 4, "labelColor": "black", "labelOverlap": false, "titlePadding": 0}},
  "y": {"field": "y", "type": "quantitative", "scale": {"domain": [0, 1.1], "nice": false}, "title": "Intesity (Relative to Iₘₐₓ)", "axis": {"values": [0,0.1,0.2,0.3,0.4,0.5,0.6,0.7,0.8,0.9,1.0], "tickCount": 100, "format": ".1f", "labelOverlap": false, "labelFlush": false, "labelExpr": "round(datum.value*10) % 2 == 0 ? datum.label : ''", "tickSize": {"condition": {"test": "round(datum.value*10) % 2 == 0", "value": 4}, "value": 2}}},
  "color": {"field": "e", "type": "nominal", "scale": {"domain": ["λₑₓ 390 nm", "λₑₓ 450 nm"], "range": ["#111111", "#ee1c24"]}, "legend": {"title": null, "orient": "none", "legendX": 135, "legendY": 55, "symbolType": "M-1,0H1M-0.25,0A0.25,0.25,0,1,1,0.25,0A0.25,0.25,0,1,1,-0.25,0Z", "symbolSize": 400, "symbolStrokeWidth": 1.5, "clipHeight": 10, "padding": 4, "rowPadding": 6, "labelOffset": 3}}
},
"layer": [
 {"mark": {"type": "line", "interpolate": "basis", "strokeWidth": 1.3}, "encoding": {"strokeDash": {"field": "e", "type": "nominal", "scale": {"domain": ["λₑₓ 390 nm", "λₑₓ 450 nm"], "range": [[1, 0], [4, 3]]}, "legend": {"title": null, "orient": "none", "legendX": 135, "legendY": 55, "symbolType": "M-1,0H1M-0.25,0A0.25,0.25,0,1,1,0.25,0A0.25,0.25,0,1,1,-0.25,0Z", "symbolSize": 400, "symbolStrokeWidth": 1.5, "clipHeight": 10, "padding": 4, "rowPadding": 6, "labelOffset": 3}}}},
 {"mark": {"type": "point", "filled": true, "size": 22, "opacity": 1}}
]
}
]
}
]
}
